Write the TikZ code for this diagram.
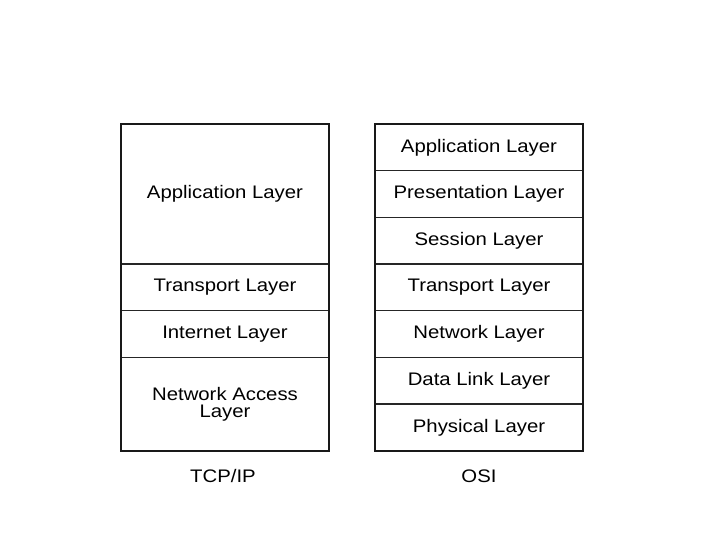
\documentclass[tikz,border=0pt]{standalone}
\usepackage{fontspec}
\setmainfont{Liberation Sans}[FakeStretch=1.12]
\usetikzlibrary{positioning, fit}

\begin{document}
\begin{tikzpicture}[
x=0.03cm, y=-0.03cm,
layer/.style={
draw=black!85,
line width=1.3pt,
minimum width=6.24cm,
minimum height=1.4cm,
inner sep=0pt,
outer sep=0pt,
align=center,
font=\fontsize{15.5}{14.5}\selectfont
},
stackframe/.style={draw=black!90, line width=1.8pt, inner sep=0pt},
caption/.style={font=\fontsize{15.5}{16}\selectfont}
]

\useasboundingbox (0,0) rectangle (720,540);

% -------- TCP/IP stack --------
\node[layer, minimum height=4.2cm, anchor=north west] (tapp) at (121,124) {Application Layer};
\node[layer, below=0pt of tapp] (ttrans) {Transport Layer};
\node[layer, below=0pt of ttrans] (tinet) {Internet Layer};
\node[layer, minimum height=2.8cm, below=0pt of tinet] (tacc) {Network Access\\Layer};
\node[stackframe, fit=(tapp)(tacc)] (tcpstack) {};

% -------- OSI stack --------
\node[layer, anchor=north west] (oapp) at (375,124) {Application Layer};
\node[layer, below=0pt of oapp] (opres) {Presentation Layer};
\node[layer, below=0pt of opres] (osess) {Session Layer};
\node[layer, below=0pt of osess] (otrans) {Transport Layer};
\node[layer, below=0pt of otrans] (onet) {Network Layer};
\node[layer, below=0pt of onet] (olink) {Data Link Layer};
\node[layer, below=0pt of olink] (ophys) {Physical Layer};
\node[stackframe, fit=(oapp)(ophys)] (osistack) {};

% -------- captions --------
\node[caption] (tcplabel) at (223,476) {TCP/IP};
\node[caption] (osilabel) at (479,476) {OSI};

\end{tikzpicture}
\end{document}
